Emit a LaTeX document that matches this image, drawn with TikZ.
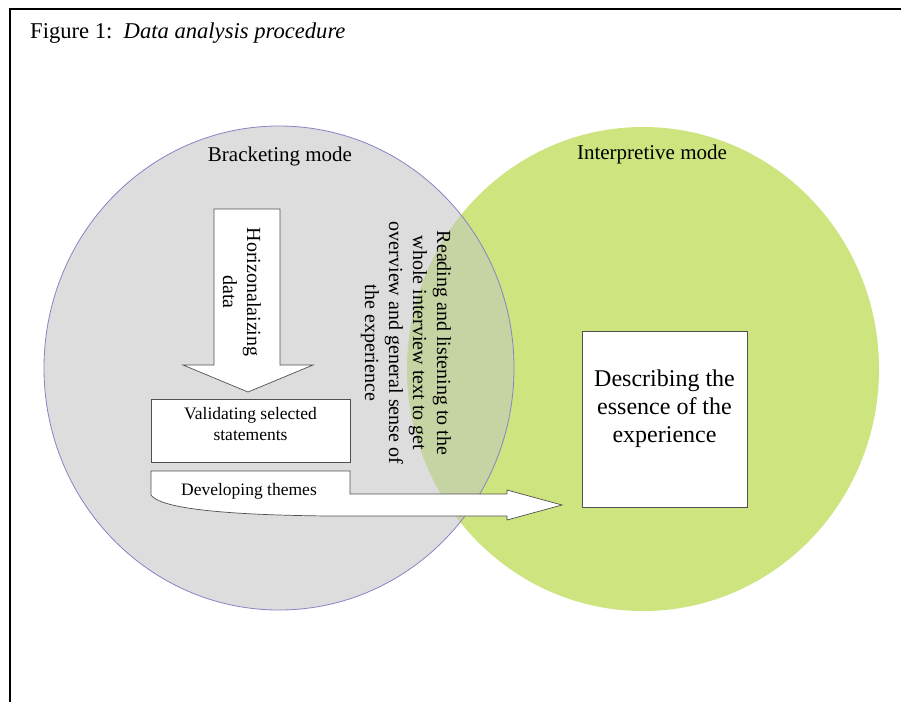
\documentclass[tikz,border=0pt]{standalone}
\usepackage{fontspec}
\setmainfont{Liberation Serif}
\definecolor{graycirc}{HTML}{DDDDDD}
\definecolor{greencirc}{HTML}{CDE47F}
\definecolor{overlapc}{HTML}{C6D3A2}
\definecolor{grayedge}{HTML}{8585C5}
\definecolor{boxedge}{HTML}{505050}
\begin{document}
\begin{tikzpicture}[x=1pt,y=-1pt,
  blockarrow/.style={fill=white, draw=boxedge, line width=0.7pt, line join=miter},
  whitebox/.style={fill=white, draw=boxedge, line width=0.8pt, inner sep=0pt},
  plain/.style={inner sep=0pt, align=center},
  f17/.style={font=\fontsize{17.5}{21}\selectfont},
  f20/.style={font=\fontsize{20}{24}\selectfont},
  f21/.style={font=\fontsize{21}{25}\selectfont},
  f24/.style={font=\fontsize{24}{28}\selectfont}]
\useasboundingbox (0,0) rectangle (901,702);
\fill[white] (0,0) rectangle (901,702);
\draw[line width=1.6pt] (10,702) -- (10,9) -- (901,9);
\node[anchor=base west, inner sep=0pt, font=\fontsize{22.6}{26}\selectfont] (title) at (30,38) {Figure 1:\ \ \textit{Data analysis procedure}};

% Venn circles
\fill[greencirc] (643,369) ellipse [x radius=236, y radius=242];
\fill[graycirc] (279,368) ellipse [x radius=235, y radius=242];
\begin{scope}
  \clip (643,369) ellipse [x radius=236, y radius=242];
  \fill[overlapc] (279,368) ellipse [x radius=235, y radius=242];
\end{scope}
\draw[grayedge, line width=0.8pt] (279,368) ellipse [x radius=235, y radius=242];

\node[plain, f21, anchor=base] (bracket) at (280,161) {Bracketing mode};
\node[plain, f21, anchor=base] (interp) at (652,159) {Interpretive mode};

% down block arrow
\draw[blockarrow] (214,209) -- (280,209) -- (280,365) -- (313,365) -- (248,392) -- (183,365) -- (214,365) -- cycle;
\node[plain, f20, rotate=-90] (horiz) at (242,292) {Horizonalaizing\\data};

% validating box
\node[whitebox, minimum width=199pt, minimum height=63pt] (valid) at (250.5,430.5) {};
\node[plain, f17] (validtxt) at (250.5,424) {Validating selected\\statements};

% developing themes arrow
\draw[blockarrow] (151,471) -- (350,471) -- (350,494) -- (507,494) -- (507,490) -- (562,505) -- (507,520) -- (507,516)
  -- (330,516) .. controls (220,515) and (160,508) .. (151,495) -- cycle;
\node[plain, f17, anchor=base] (devel) at (249,495) {Developing themes};

% reading text
\node[plain, f20, rotate=-90] (reading) at (406,343) {Reading and listening to the\\whole interview text to get\\overview and general sense of\\the experience};

% describing box
\node[whitebox, minimum width=165pt, minimum height=176pt] (desc) at (664.5,419) {};
\node[plain, f24] (desctxt) at (664.5,409) {Describing the\\essence of the\\experience};
\end{tikzpicture}
\end{document}
